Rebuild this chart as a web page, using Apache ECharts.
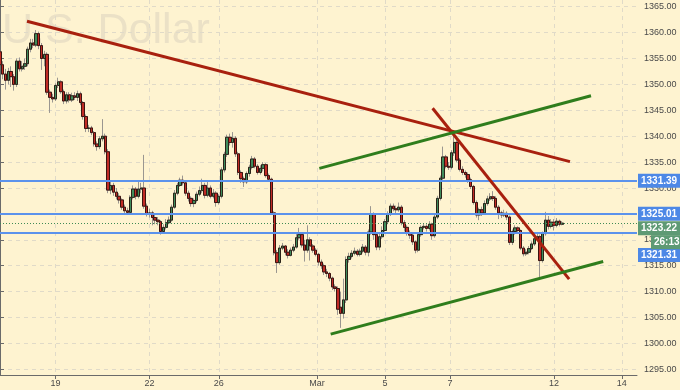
<!DOCTYPE html>
<html><head><meta charset="utf-8">
<script src="https://cdn.jsdelivr.net/npm/echarts@6/dist/echarts.min.js"></script>
<style>html,body{margin:0;padding:0;background:#fef3d0;}#c{width:680px;height:390px;}</style>
</head><body><div id="c"></div>
<script>
// ---- x axis (2-hour slots, trading days only) ----
const dayLabels = ['19', '22', '26', 'Mar', '5', '7', '12', '14'];
const dayTickSlots = [20, 54, 79, 114.5, 139, 162.5, 200, 224.5];
const slotCount = 230;
// ---- y axis ----
const priceTicks = [1295, 1300, 1305, 1310, 1315, 1320, 1325, 1330, 1335, 1340, 1345, 1350, 1355, 1360, 1365];
const priceMin = 1293.9, priceMax = 1366.3;
// ---- candles ----
const opens = [1356.3,1353.8,1352.0,1350.8,1352.5,1351.5,1350.0,1354.5,1353.0,1353.5,1354.0,1356.8,1358.0,1357.6,1359.8,1357.5,1355.0,1355.8,1348.5,1347.5,1347.2,1349.8,1350.5,1348.6,1346.8,1348.0,1347.0,1347.8,1347.5,1348.2,1346.5,1343.8,1341.5,1341.6,1340.7,1338.5,1338.0,1339.5,1340.0,1337.0,1329.6,1330.5,1329.2,1328.4,1327.7,1326.3,1325.6,1325.3,1328.2,1329.8,1328.4,1329.8,1330.0,1326.5,1325.0,1325.2,1324.3,1323.8,1323.5,1321.6,1322.4,1323.3,1323.8,1326.3,1329.0,1330.5,1331.5,1331.0,1329.0,1328.0,1327.0,1327.6,1328.8,1329.5,1330.5,1328.6,1330.0,1328.4,1329.0,1327.2,1328.4,1333.5,1336.5,1339.8,1338.8,1339.6,1336.6,1333.0,1331.8,1331.2,1332.8,1334.0,1335.6,1334.2,1333.0,1333.8,1334.5,1332.4,1331.7,1325.2,1317.5,1315.6,1318.4,1318.8,1317.6,1317.0,1318.0,1318.6,1320.4,1321.0,1319.0,1318.0,1320.0,1318.8,1318.0,1317.2,1315.7,1315.0,1313.8,1313.5,1312.6,1310.9,1310.6,1307.0,1305.8,1308.4,1316.2,1316.8,1317.4,1317.8,1317.2,1317.8,1318.6,1317.6,1321.5,1325.0,1321.0,1318.6,1320.6,1321.8,1323.5,1325.0,1326.5,1326.0,1325.8,1326.3,1323.3,1322.4,1321.4,1320.9,1319.6,1318.0,1321.0,1322.4,1322.6,1322.2,1323.0,1320.8,1324.4,1328.0,1331.9,1336.0,1334.2,1334.0,1336.8,1338.8,1335.4,1333.6,1333.0,1332.6,1331.6,1330.3,1327.2,1324.8,1325.8,1325.2,1327.0,1327.9,1328.3,1328.0,1326.3,1325.2,1324.8,1325.1,1324.4,1319.5,1321.6,1322.3,1321.8,1318.4,1317.3,1317.6,1318.3,1319.2,1320.2,1320.6,1316.0,1321.2,1323.8,1322.6,1323.4,1322.8,1323.6,1323.0];
const closes = [1353.8,1352.0,1350.8,1352.5,1351.5,1350.0,1354.5,1353.0,1353.5,1354.0,1356.8,1358.0,1357.6,1359.8,1357.5,1355.0,1355.8,1348.5,1347.5,1347.2,1349.8,1350.5,1348.6,1346.8,1348.0,1347.0,1347.8,1347.5,1348.2,1346.5,1343.8,1341.5,1341.6,1340.7,1338.5,1338.0,1339.5,1340.0,1337.0,1329.6,1330.5,1329.2,1328.4,1327.7,1326.3,1325.6,1325.3,1328.2,1329.8,1328.4,1329.8,1330.0,1326.5,1325.0,1325.2,1324.3,1323.8,1323.5,1321.6,1322.4,1323.3,1323.8,1326.3,1329.0,1330.5,1331.5,1331.0,1329.0,1328.0,1327.0,1327.6,1328.8,1329.5,1330.5,1328.6,1330.0,1328.4,1329.0,1327.2,1328.4,1333.5,1336.5,1339.8,1338.8,1339.6,1336.6,1333.0,1331.8,1331.2,1332.8,1334.0,1335.6,1334.2,1333.0,1333.8,1334.5,1332.4,1331.7,1325.2,1317.5,1315.6,1318.4,1318.8,1317.6,1317.0,1318.0,1318.6,1320.4,1321.0,1319.0,1318.0,1320.0,1318.8,1318.0,1317.2,1315.7,1315.0,1313.8,1313.5,1312.6,1310.9,1310.6,1306.6,1305.8,1308.4,1316.2,1316.8,1317.4,1317.8,1317.2,1317.8,1318.6,1317.6,1321.5,1325.0,1321.0,1318.6,1320.6,1321.8,1323.5,1325.0,1326.5,1326.0,1325.8,1326.3,1323.3,1322.4,1321.4,1320.9,1319.6,1318.0,1321.0,1322.4,1322.6,1322.2,1323.0,1320.8,1324.4,1328.0,1331.9,1336.0,1334.2,1334.0,1336.8,1338.8,1335.4,1333.6,1333.0,1332.6,1331.6,1330.3,1327.2,1324.8,1325.8,1325.2,1327.0,1327.9,1328.3,1328.0,1326.3,1325.2,1324.8,1325.1,1324.4,1319.5,1321.6,1322.3,1321.8,1318.4,1317.3,1317.6,1318.3,1319.2,1320.2,1320.6,1316.0,1321.2,1323.8,1322.6,1323.4,1322.8,1323.6,1323.0,1323.22];
const highs = [1356.8,1354.5,1353.0,1353.2,1353.5,1352.0,1355.0,1355.2,1354.5,1355.0,1357.3,1358.8,1358.8,1360.5,1360.2,1358.0,1356.5,1356.2,1349.0,1348.2,1350.2,1351.3,1350.8,1349.0,1348.5,1348.5,1348.4,1348.5,1348.8,1348.6,1346.8,1344.2,1342.2,1342.0,1341.0,1339.0,1340.0,1343.3,1340.5,1337.5,1331.2,1331.0,1330.0,1329.0,1328.0,1326.8,1326.2,1328.6,1330.5,1330.2,1331.5,1331.0,1336.4,1327.0,1326.0,1325.6,1324.8,1324.4,1323.8,1323.0,1324.0,1324.5,1326.8,1329.6,1331.0,1332.0,1332.4,1331.4,1329.5,1328.4,1328.0,1329.3,1330.3,1331.8,1331.0,1331.2,1330.5,1329.8,1329.4,1328.8,1334.0,1337.0,1340.3,1340.5,1340.8,1340.0,1337.0,1333.4,1332.2,1333.2,1334.5,1336.2,1336.0,1334.6,1334.4,1335.0,1334.8,1332.8,1332.0,1325.5,1318.0,1319.0,1319.4,1319.0,1318.2,1318.5,1319.2,1321.5,1322.3,1321.4,1320.0,1322.8,1320.5,1319.2,1318.4,1317.5,1316.2,1315.4,1314.4,1313.8,1312.9,1311.4,1311.0,1310.0,1312.5,1316.8,1317.5,1318.0,1318.5,1318.2,1318.3,1319.2,1319.0,1322.0,1326.5,1325.3,1321.5,1321.4,1322.6,1324.0,1325.5,1327.0,1327.0,1326.6,1327.2,1326.7,1323.8,1322.8,1321.8,1321.2,1319.9,1321.5,1322.8,1323.2,1323.0,1323.6,1323.3,1325.0,1328.5,1332.4,1338.0,1336.4,1335.0,1337.3,1340.2,1339.2,1335.8,1334.2,1333.4,1333.0,1332.0,1330.6,1327.6,1326.2,1326.4,1327.6,1328.5,1329.0,1329.4,1328.4,1326.7,1325.6,1325.8,1325.5,1324.7,1322.0,1322.8,1322.6,1322.0,1318.8,1318.2,1318.8,1319.7,1320.8,1321.4,1321.0,1321.6,1325.4,1324.6,1324.0,1324.0,1324.2,1323.9,1323.6];
const lows = [1353.0,1351.0,1349.0,1350.0,1349.5,1348.8,1349.5,1352.5,1352.5,1352.8,1353.5,1356.2,1357.0,1357.2,1356.8,1352.8,1353.5,1348.0,1344.5,1346.5,1346.8,1349.3,1348.2,1346.2,1346.3,1346.5,1346.6,1347.0,1346.8,1346.0,1343.2,1340.8,1340.8,1340.2,1338.0,1337.2,1337.5,1339.0,1336.5,1329.0,1328.8,1328.5,1327.8,1327.0,1325.8,1325.0,1324.8,1325.0,1327.8,1327.8,1328.0,1329.0,1326.0,1324.5,1324.3,1322.8,1323.0,1322.8,1321.0,1321.2,1322.0,1323.0,1323.5,1326.0,1328.6,1330.2,1330.5,1328.5,1327.4,1326.4,1326.3,1327.2,1328.4,1329.0,1328.0,1328.2,1328.0,1328.0,1326.4,1326.8,1328.0,1333.0,1336.0,1338.2,1337.8,1336.0,1332.5,1331.0,1330.2,1330.8,1332.2,1333.6,1333.8,1332.6,1332.6,1333.2,1332.0,1331.2,1324.8,1317.0,1313.6,1315.2,1318.0,1317.0,1316.4,1316.8,1317.6,1318.3,1320.0,1318.5,1315.8,1317.5,1316.0,1317.5,1316.8,1315.0,1314.4,1313.2,1312.8,1312.0,1310.3,1310.0,1305.5,1303.0,1304.8,1307.8,1315.6,1316.4,1317.0,1316.8,1316.8,1317.4,1317.0,1316.8,1321.0,1320.0,1318.0,1318.0,1320.2,1321.4,1323.0,1324.6,1325.5,1325.0,1325.4,1322.8,1321.6,1320.8,1320.2,1319.0,1317.4,1317.6,1320.6,1322.0,1321.6,1321.8,1320.0,1320.4,1324.0,1327.6,1331.4,1333.8,1333.5,1333.6,1336.2,1335.0,1333.2,1332.5,1332.0,1331.0,1329.8,1326.8,1324.3,1323.8,1324.6,1324.8,1326.6,1327.5,1327.5,1325.8,1324.0,1324.2,1324.4,1323.8,1319.0,1319.0,1321.0,1321.2,1318.0,1316.8,1316.9,1317.2,1318.0,1318.8,1319.8,1312.8,1315.6,1320.8,1322.0,1322.2,1321.8,1322.4,1322.6,1322.8];
// ---- horizontal levels ----
const upperLevel = 1331.39;
const middleLevel = 1325.01;
const lowerLevel = 1321.31;
const lastPrice = 1323.22;
const countdownText = '26:13';
// ---- trend lines [slot, price] ----
const redLongLine = [[9.75, 1362.2], [205.8, 1335.1]];
const redSteepLine = [[156.2, 1345.4], [205.5, 1312.4]];
const greenUpperLine = [[115.3, 1333.8], [213.4, 1347.8]];
const greenLowerLine = [[119.4, 1301.8], [217.8, 1315.8]];

const FONT = '"Liberation Sans", Arial, sans-serif';
const wickData = opens.map((o, i) => [i, o, closes[i], lows[i], highs[i]]);
const bodyData = opens.map((o, i) => [i, o, closes[i], Math.min(o, closes[i]), Math.max(o, closes[i])]);

const boxLabel = (extra) => Object.assign({
  show: true, position: 'end', distance: 1, color: '#fff', fontWeight: 'bold', fontSize: 10,
  fontFamily: FONT, backgroundColor: '#4d88e6', padding: [2, 3, 1, 3], lineHeight: 11
}, extra);

const chart = echarts.init(document.getElementById('c'), null, {renderer: 'canvas'});
chart.setOption({
  animation: false,
  backgroundColor: '#fef3d0',
  graphic: [{
    type: 'text', x: 2, y: 10, z: -10, silent: true,
    style: {text: 'U.S. Dollar', font: '43px ' + FONT, fill: '#ebe1c6', verticalAlign: 'top'}
  }],
  grid: {left: 0, right: 43, top: 0, bottom: 15},
  xAxis: {
    type: 'value', min: 0, max: slotCount,
    axisLine: {show: true, onZero: false, lineStyle: {color: '#6a6a6a', width: 1}},
    axisTick: {show: true, customValues: dayTickSlots, length: 4, lineStyle: {color: '#6a6a6a'}},
    axisLabel: {
      customValues: dayTickSlots, margin: 4, fontSize: 9, color: '#4a4a4a', fontFamily: FONT,
      formatter: v => { const k = dayTickSlots.indexOf(v); return k >= 0 ? dayLabels[k] : ''; }
    },
    splitLine: {show: true, lineStyle: {color: '#e0dac8', type: [4, 4], width: 1}}
  },
  yAxis: {
    type: 'value', position: 'right', min: priceMin, max: priceMax, scale: true,
    axisLine: {show: true, lineStyle: {color: '#6a6a6a', width: 1}},
    axisTick: {show: true, customValues: priceTicks, length: 4, lineStyle: {color: '#6a6a6a'}},
    axisLabel: {customValues: priceTicks, margin: 7, fontSize: 9, color: '#4a4a4a', fontFamily: FONT,
      formatter: v => v.toFixed(2)},
    splitLine: {show: true, lineStyle: {color: '#e0dac8', type: [4, 4], width: 1}}
  },
  series: [
    {
      type: 'line', data: [], z: 2, clip: false, silent: true,
      markLine: {
        silent: true, symbol: ['none', 'none'], animation: false,
        data: [
          {yAxis: upperLevel, lineStyle: {color: '#5b92ec', width: 2, type: 'solid'}, label: boxLabel({formatter: upperLevel.toFixed(2)})},
          {yAxis: middleLevel, lineStyle: {color: '#5b92ec', width: 2, type: 'solid'}, label: boxLabel({formatter: middleLevel.toFixed(2)})},
          {yAxis: lowerLevel, lineStyle: {color: '#5b92ec', width: 2, type: 'solid'}, label: boxLabel({formatter: lowerLevel.toFixed(2), offset: [0, 22]})},
          {yAxis: lastPrice, lineStyle: {color: '#3f8a55', width: 1, type: [1, 2]}, label: boxLabel({formatter: lastPrice.toFixed(2), offset: [0, 5], backgroundColor: '#5e9a74'})},
          {yAxis: lastPrice, lineStyle: {color: 'rgba(0,0,0,0)', width: 0}, label: boxLabel({formatter: countdownText, offset: [13, 19], backgroundColor: '#5e9a74'})}
        ]
      }
    },
    {
      type: 'candlestick', data: wickData, z: 3, barWidth: 2.8, silent: true,
      itemStyle: {color: '#9a9690', color0: '#9a9690', borderColor: '#9a9690', borderColor0: '#9a9690', borderWidth: 1}
    },
    {
      type: 'candlestick', data: bodyData, z: 4, barWidth: 2.8, silent: true,
      itemStyle: {color: '#3f8c5c', color0: '#c12b25', borderColor: '#2b2218', borderColor0: '#3a1410', borderWidth: 1}
    },
    {type: 'line', data: redLongLine, z: 5, symbol: 'none', silent: true, lineStyle: {color: '#a8200e', width: 3}},
    {type: 'line', data: redSteepLine, z: 5, symbol: 'none', silent: true, lineStyle: {color: '#a8200e', width: 3}},
    {type: 'line', data: greenUpperLine, z: 5, symbol: 'none', silent: true, lineStyle: {color: '#2f7d1c', width: 3}},
    {type: 'line', data: greenLowerLine, z: 5, symbol: 'none', silent: true, lineStyle: {color: '#2f7d1c', width: 3}}
  ]
});
</script>
</body></html>
